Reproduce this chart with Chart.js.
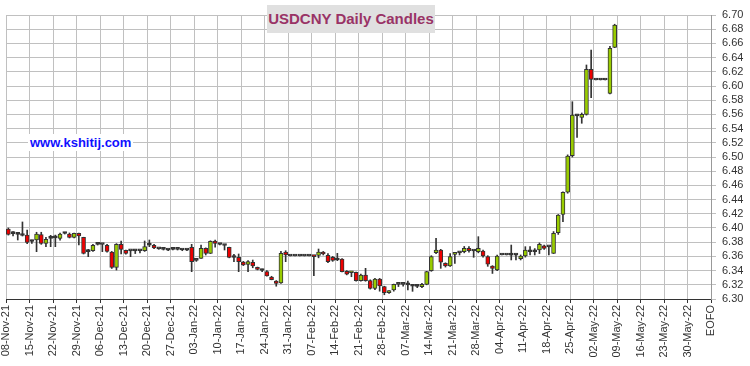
<!DOCTYPE html>
<html>
<head>
<meta charset="utf-8">
<script src="https://cdn.jsdelivr.net/npm/chart.js@4"></script>
<style>
  html, body { margin: 0; padding: 0; background: #fff; }
  #wrap { position: relative; width: 750px; height: 366px; }
  #title {
    position: absolute; left: 267px; top: 5px; width: 168px; height: 28px;
    background: #e0e0e0; color: #993366;
    font: bold 15px "Liberation Sans", Arial, sans-serif;
    line-height: 28px; text-align: center;
  }
  #site {
    position: absolute; left: 28px; top: 134px; padding: 0 2px;
    background: #fff; color: #1010ff;
    font: bold 13px "Liberation Sans", Arial, sans-serif; line-height: 17px;
  }
</style>
</head>
<body>
<div id="wrap">
  <canvas id="c" width="750" height="366"></canvas>
  <div id="title">USDCNY Daily Candles</div>
  <div id="site">www.kshitij.com</div>
</div>
<script>
// Weekly tick labels (one every 5 trading days)
const tickLabels = [
  '08-Nov-21', '15-Nov-21', '22-Nov-21', '29-Nov-21', '06-Dec-21', '13-Dec-21',
  '20-Dec-21', '27-Dec-21', '03-Jan-22', '10-Jan-22', '17-Jan-22', '24-Jan-22',
  '31-Jan-22', '07-Feb-22', '14-Feb-22', '21-Feb-22', '28-Feb-22', '07-Mar-22',
  '14-Mar-22', '21-Mar-22', '28-Mar-22', '04-Apr-22', '11-Apr-22', '18-Apr-22',
  '25-Apr-22', '02-May-22', '09-May-22', '16-May-22', '23-May-22', '30-May-22',
  'EOFO'
];

// Daily candles, one per weekday starting 08-Nov-21 (holidays are flat)
const opens = [
  6.3986, 6.3925, 6.3911, 6.3897, 6.3901, 6.3812, 6.3831, 6.3906, 6.3784, 6.3855,
  6.3860, 6.3855, 6.3925, 6.3915, 6.3869, 6.3925, 6.3869, 6.3671, 6.3680, 6.3770,
  6.3770, 6.3756, 6.3662, 6.3446, 6.3770, 6.3685, 6.3680, 6.3680, 6.3680, 6.3680,
  6.3761, 6.3756, 6.3709, 6.3700, 6.3690, 6.3700, 6.3700, 6.3690, 6.3690, 6.3728,
  6.3545, 6.3573, 6.3714, 6.3643, 6.3817, 6.3770, 6.3756, 6.3728, 6.3587, 6.3587,
  6.3521, 6.3488, 6.3517, 6.3446, 6.3404, 6.3385, 6.3310, 6.3254, 6.3226, 6.3662,
  6.3606, 6.3606, 6.3606, 6.3606, 6.3606, 6.3606, 6.3615, 6.3662, 6.3615, 6.3587,
  6.3550, 6.3563, 6.3390, 6.3370, 6.3376, 6.3258, 6.3338, 6.3258, 6.3150, 6.3282,
  6.3174, 6.3089, 6.3127, 6.3207, 6.3207, 6.3200, 6.3183, 6.3180, 6.3174, 6.3207,
  6.3399, 6.3652, 6.3690, 6.3502, 6.3465, 6.3629, 6.3652, 6.3667, 6.3714, 6.3680,
  6.3667, 6.3676, 6.3596, 6.3465, 6.3408, 6.3620, 6.3620, 6.3620, 6.3620, 6.3568,
  6.3606, 6.3666, 6.3666, 6.3690, 6.3750, 6.3737, 6.3643, 6.3934, 6.4193, 6.4503,
  6.5018, 6.5582, 6.5559, 6.5601, 6.6235, 6.6085, 6.6085, 6.6085, 6.5897, 6.6545
];
const highs = [
  6.4000, 6.3948, 6.3934, 6.4085, 6.3972, 6.3830, 6.3940, 6.3940, 6.3870, 6.3897,
  6.3900, 6.3930, 6.3940, 6.3930, 6.3930, 6.3930, 6.3870, 6.3700, 6.3770, 6.3780,
  6.3775, 6.3770, 6.3670, 6.3780, 6.3817, 6.3690, 6.3685, 6.3690, 6.3685, 6.3817,
  6.3831, 6.3770, 6.3715, 6.3710, 6.3700, 6.3710, 6.3705, 6.3700, 6.3700, 6.3770,
  6.3550, 6.3761, 6.3720, 6.3820, 6.3830, 6.3780, 6.3765, 6.3730, 6.3630, 6.3634,
  6.3530, 6.3540, 6.3549, 6.3450, 6.3420, 6.3400, 6.3320, 6.3260, 6.3670, 6.3680,
  6.3606, 6.3606, 6.3606, 6.3606, 6.3606, 6.3610, 6.3704, 6.3670, 6.3640, 6.3600,
  6.3643, 6.3570, 6.3400, 6.3385, 6.3380, 6.3350, 6.3432, 6.3270, 6.3290, 6.3290,
  6.3180, 6.3120, 6.3210, 6.3210, 6.3210, 6.3254, 6.3207, 6.3190, 6.3220, 6.3390,
  6.3610, 6.3855, 6.3700, 6.3510, 6.3640, 6.3640, 6.3660, 6.3740, 6.3740, 6.3682,
  6.3878, 6.3690, 6.3610, 6.3470, 6.3620, 6.3620, 6.3620, 6.3760, 6.3630, 6.3620,
  6.3737, 6.3737, 6.3710, 6.3790, 6.3760, 6.3740, 6.3950, 6.4190, 6.4510, 6.5030,
  6.5779, 6.5590, 6.5620, 6.6296, 6.6507, 6.6085, 6.6085, 6.6085, 6.6560, 6.6870
];
const lows = [
  6.3900, 6.3887, 6.3831, 6.3887, 6.3780, 6.3784, 6.3667, 6.3770, 6.3737, 6.3737,
  6.3737, 6.3830, 6.3915, 6.3860, 6.3860, 6.3761, 6.3634, 6.3596, 6.3670, 6.3760,
  6.3667, 6.3660, 6.3430, 6.3408, 6.3634, 6.3630, 6.3596, 6.3640, 6.3650, 6.3670,
  6.3737, 6.3710, 6.3700, 6.3690, 6.3680, 6.3690, 6.3690, 6.3680, 6.3680, 6.3385,
  6.3530, 6.3570, 6.3620, 6.3640, 6.3730, 6.3760, 6.3690, 6.3580, 6.3526, 6.3385,
  6.3470, 6.3385, 6.3440, 6.3410, 6.3385, 6.3320, 6.3270, 6.3180, 6.3220, 6.3526,
  6.3606, 6.3606, 6.3606, 6.3606, 6.3606, 6.3330, 6.3580, 6.3620, 6.3510, 6.3530,
  6.3540, 6.3380, 6.3340, 6.3314, 6.3250, 6.3250, 6.3250, 6.3140, 6.3130, 6.3110,
  6.3060, 6.3080, 6.3110, 6.3175, 6.3180, 6.3127, 6.3108, 6.3160, 6.3160, 6.3200,
  6.3390, 6.3640, 6.3432, 6.3450, 6.3460, 6.3500, 6.3620, 6.3650, 6.3660, 6.3587,
  6.3650, 6.3590, 6.3460, 6.3360, 6.3400, 6.3620, 6.3620, 6.3550, 6.3550, 6.3550,
  6.3590, 6.3620, 6.3620, 6.3640, 6.3700, 6.3620, 6.3640, 6.3910, 6.4090, 6.4490,
  6.5000, 6.5277, 6.5475, 6.5590, 6.5835, 6.6085, 6.6085, 6.6085, 6.5890, 6.6540
];
const closes = [
  6.3911, 6.3920, 6.3910, 6.3895, 6.3798, 6.3810, 6.3915, 6.3784, 6.3841, 6.3859,
  6.3862, 6.3915, 6.3922, 6.3869, 6.3925, 6.3887, 6.3643, 6.3668, 6.3756, 6.3772,
  6.3768, 6.3671, 6.3446, 6.3770, 6.3700, 6.3643, 6.3678, 6.3678, 6.3682, 6.3737,
  6.3758, 6.3718, 6.3707, 6.3698, 6.3688, 6.3702, 6.3698, 6.3692, 6.3688, 6.3526,
  6.3543, 6.3714, 6.3643, 6.3812, 6.3784, 6.3768, 6.3754, 6.3587, 6.3585, 6.3526,
  6.3479, 6.3526, 6.3465, 6.3418, 6.3402, 6.3324, 6.3273, 6.3221, 6.3643, 6.3620,
  6.3606, 6.3606, 6.3606, 6.3606, 6.3606, 6.3596, 6.3662, 6.3634, 6.3526, 6.3545,
  6.3549, 6.3385, 6.3348, 6.3376, 6.3258, 6.3338, 6.3258, 6.3150, 6.3282, 6.3183,
  6.3089, 6.3113, 6.3207, 6.3205, 6.3205, 6.3205, 6.3180, 6.3178, 6.3207, 6.3385,
  6.3596, 6.3690, 6.3517, 6.3465, 6.3596, 6.3634, 6.3650, 6.3714, 6.3680, 6.3676,
  6.3714, 6.3606, 6.3489, 6.3432, 6.3606, 6.3620, 6.3620, 6.3618, 6.3618, 6.3606,
  6.3690, 6.3668, 6.3668, 6.3770, 6.3714, 6.3735, 6.3925, 6.4183, 6.4503, 6.5014,
  6.5592, 6.5580, 6.5601, 6.6235, 6.6094, 6.6085, 6.6085, 6.6085, 6.6531, 6.6859
];

const UP_COLOR = '#99cc00';
const DOWN_COLOR = '#ee0000';
const EDGE_COLOR = '#333333';

const wickData = opens.map((o, i) => ({ x: i + 0.5, y: [lows[i], highs[i]] }));
const bodyData = opens.map((o, i) => ({ x: i + 0.5, y: [o, closes[i]] }));
const bodyColors = opens.map((o, i) => {
  if (Math.abs(closes[i] - o) < 0.0005) return EDGE_COLOR;
  return closes[i] > o ? UP_COLOR : DOWN_COLOR;
});

const labelFont = { family: '"Liberation Sans", Arial, sans-serif', size: 11 };

new Chart(document.getElementById('c'), {
  type: 'bar',
  data: {
    datasets: [
      {
        label: 'wick',
        data: wickData,
        backgroundColor: EDGE_COLOR,
        borderWidth: 0,
        barThickness: 1,
        grouped: false,
        order: 2
      },
      {
        label: 'body',
        data: bodyData,
        backgroundColor: bodyColors,
        borderColor: EDGE_COLOR,
        borderWidth: 1,
        borderSkipped: false,
        barThickness: 4,
        minBarLength: 2,
        grouped: false,
        order: 1
      }
    ]
  },
  options: {
    responsive: false,
    animation: false,
    layout: { padding: { left: 6, top: 15, right: 0, bottom: 0 } },
    plugins: {
      legend: { display: false },
      tooltip: { enabled: false }
    },
    scales: {
      x: {
        type: 'linear',
        min: 0,
        max: 150,
        offset: false,
        grid: { color: '#c0c0c0', tickColor: '#333', tickLength: 4, offset: false },
        border: { color: '#333', width: 1 },
        ticks: {
          stepSize: 5,
          autoSkip: false,
          maxRotation: 90,
          minRotation: 90,
          padding: 2,
          color: '#333',
          font: labelFont,
          callback: v => tickLabels[Math.round(v / 5)]
        },
        afterFit: s => { s.height = 67; s.paddingLeft = 0; s.paddingRight = 0; }
      },
      y: {
        position: 'right',
        min: 6.30,
        max: 6.70,
        grid: { color: '#c0c0c0', tickLength: 5 },
        border: { color: '#999' },
        ticks: {
          stepSize: 0.02,
          autoSkip: false,
          padding: 6,
          color: '#333',
          font: labelFont,
          callback: v => v.toFixed(2)
        },
        afterFit: s => { s.width = 39; }
      }
    }
  }
});
</script>
</body>
</html>
